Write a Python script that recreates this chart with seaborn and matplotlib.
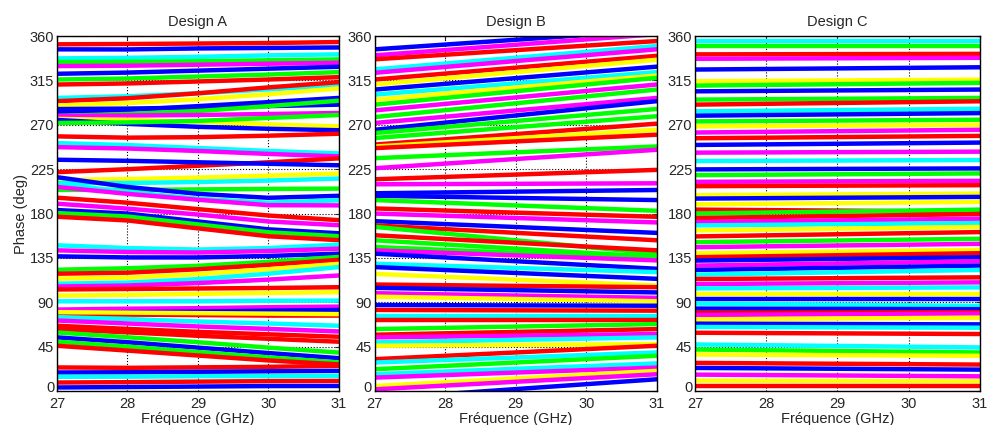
import numpy as np
import pandas as pd
import seaborn as sns
from matplotlib import pyplot as plt
from matplotlib import transforms

# couleurs type MATLAB
coul = {'r': (1, 0, 0), 'b': (0, 0, 1), 'm': (1, 0, 1),
        'g': (0, 1, 0), 'c': (0, 1, 1), 'y': (1, 1, 0)}

freq_a = [27, 28, 29, 30, 31]
colors_a = "rbcgmbgrcrybbgmybgrcmrbycgbcmrmbgrcmbgrycmrycmbrycmrrgbgrrbcrb"
phase_a = [
    [351.7, 352, 352.5, 353, 354],
    [346.6, 346.5, 347.5, 348, 348.5],
    [337.4, 338, 339, 340.5, 341.5],
    [333.7, 334, 334.5, 335.5, 336.4],
    [329.6, 330, 331, 332, 333],
    [321.8, 323, 325, 327, 328.9],
    [316, 317, 319, 321, 323.5],
    [310.9, 312, 314, 316, 318.4],
    [297.3, 299, 302, 306, 310],
    [294, 297, 302, 308, 313.3],
    [289.5, 292, 296, 301, 307],
    [283, 285, 289, 293, 297.3],
    [286, 286.5, 287.5, 289, 290.5],
    [279, 281, 284, 289, 294.5],
    [279, 279.5, 280, 281, 282],
    [276, 275, 273, 270.5, 268.4],
    [275, 271, 268, 266, 264.5],
    [271.9, 272.5, 274, 277, 280],
    [258.3, 257, 257.5, 259, 261],
    [251.5, 249.5, 246.5, 243.5, 241],
    [247.4, 246, 243.5, 240.5, 238],
    [222, 225, 228.5, 232, 236],
    [234.6, 233.5, 232, 230.5, 229],
    [214, 215, 216.5, 218.5, 220.6],
    [211, 211, 212, 213.5, 215.5],
    [204, 204, 204.5, 205, 205.3],
    [216.9, 207, 200, 196, 198],
    [210, 202, 195, 191, 193.4],
    [207, 200, 194, 188.5, 188.3],
    [196.1, 191, 184.5, 178, 173.3],
    [190, 185, 179, 172, 168.2],
    [183.6, 180, 172, 164, 160],
    [180.5, 177, 169, 161, 157],
    [176.8, 173, 165, 157, 153],
    [147.8, 145, 143.5, 145, 148.5],
    [142.7, 141, 140.5, 142, 144.4],
    [136.6, 135.5, 135.5, 137, 139.3],
    [123, 124.5, 127, 131, 136],
    [119, 120, 123.5, 128, 133],
    [114, 115, 118.5, 123.5, 129],
    [108.8, 110, 113.5, 119, 125.7],
    [106, 107, 109.5, 113, 117.2],
    [103, 103.5, 104, 104.5, 105.3],
    [96.8, 97.5, 98.5, 99.5, 100.2],
    [91, 91, 91, 91.5, 91.7],
    [82.6, 83.5, 84, 85, 85.6],
    [79.5, 80, 80.5, 81.5, 82.2],
    [77.5, 77.5, 77, 76.5, 76.5],
    [80, 79.5, 79, 78.5, 78],
    [75, 73, 70.5, 68.5, 66.2],
    [71.5, 68.5, 65.5, 63, 60.4],
    [66.2, 63, 60, 57.5, 55],
    [62.8, 59.5, 56, 53, 50],
    [59.4, 54.5, 49.5, 44, 39],
    [54.4, 49.5, 44, 38.5, 33.3],
    [50, 45, 39.5, 34, 29],
    [45.9, 41, 36, 31, 27],
    [23.9, 23.5, 24, 24.5, 25.5],
    [18.8, 19, 19.5, 20, 20.4],
    [14.4, 14.5, 15, 15, 15.3],
    [8.6, 9, 9.5, 10, 10.2],
    [3.6, 4, 4.5, 5, 5.1],
]

freq_b = [27, 31]
colors_b = "bmrcmrybcygmgmbggryrgmrmbbgrmbrgrggmbcbyrbmybrcrgrmcyrcgcmymb"
phase_b = [
    [346.6, 366], [340.5, 362], [336.5, 355], [326.3, 350], [322.8, 346.6],
    [316, 340], [310.9, 336], [305.8, 329], [300.7, 323.5], [295.6, 320],
    [290.5, 317.7], [284.7, 310.9], [277.9, 305.8], [271.9, 297.3], [265, 294],
    [261.7, 286.1], [256.6, 278.7], [250, 271.2], [248, 265], [246.4, 260],
    [236.2, 248.1], [226, 244.7], [214.8, 224.3], [209.7, 210.7], [200.6, 203.9],
    [198, 193.7], [193.7, 182.8], [185.2, 176.7], [180, 171], [172.3, 160.4],
    [168, 152.9], [166.5, 139.3], [158, 142.7], [152.9, 136], [146.1, 134.2],
    [142.7, 132.5], [139.3, 124], [129.1, 120.6], [125.7, 113.8], [118.8, 107],
    [108, 105.3], [104.6, 100], [99.2, 94.5], [95.7, 91], [87.2, 86.5],
    [82.2, 81.5], [76.4, 76.4], [72, 72], [62.8, 67.9], [57.1, 62.8],
    [54.4, 57.8], [49.3, 54.4], [45.9, 47.6], [32.3, 45.9], [28.9, 39.1],
    [22.1, 35.7], [17, 28], [13.6, 23.8], [5.1, 20.4], [1.7, 17],
    [-8, 11.9],
]

freq_c = [27, 31]
colors_c = "cgrmbygbgrcbgymrbmcbgmrybyrgrmcyrgmyrbmbcrmcybcbrmybcrcgyrbmyr"
phase_c = [
    [355, 355], [350, 350], [341.5, 342], [337, 338], [326.1, 328.4],
    [314.2, 315.9], [309.8, 312.6], [304, 305.8], [295.6, 297.3], [290.5, 293.9],
    [283.7, 286.3], [279.3, 281.9], [273.5, 275.2], [268.4, 270.1], [262.2, 265],
    [256.4, 258.8], [249.6, 252], [241.8, 242.8], [233.3, 234.3], [224.8, 225.8],
    [219, 220.7], [212.2, 213.2], [207.8, 208.8], [198.6, 200.3], [195.2, 196.9],
    [189.4, 191.8], [184, 182], [180, 184], [175.5, 179.5], [171.4, 174.8],
    [168, 170.4], [162.9, 166.4], [156.8, 161.2], [151, 154.4], [145.9, 149.3],
    [139.8, 143.2], [135.7, 139.8], [132.3, 135.7], [127.2, 131.6], [122.8, 127.2],
    [118, 122.8], [113.6, 115.3], [108.5, 110.2], [104.1, 105.1], [98.3, 98.3],
    [93.2, 93.2], [88.7, 86.4], [83.6, 83], [79.5, 80], [77.1, 78.5],
    [72.7, 74.4], [68.3, 67.6], [64.9, 64.2], [59.1, 57.8], [47.2, 44.2],
    [42.1, 39.1], [37, 35.7], [28.5, 26.8], [23.4, 21.7], [16.6, 14.9],
    [10.5, 9.9], [4.8, 4.8],
]

titres = ["Design A", "Design B", "Design C"]

sns.set_style("white")
plt.rcParams['font.family'] = ['Liberation Sans', 'DejaVu Sans']

fig = plt.figure(figsize=(9.89, 4.25), dpi=100)
gauche = [0.0576, 0.379, 0.7027]
largeur = [0.285, 0.285, 0.288]

donnees = [(freq_a, colors_a, phase_a), (freq_b, colors_b, phase_b), (freq_c, colors_c, phase_c)]

for k, (fr, cols, ph) in enumerate(donnees):
    ax = fig.add_axes([gauche[k], 0.08, largeur[k], 0.835])
    lignes = []
    for i, vals in enumerate(ph):
        for f, v in zip(fr, vals):
            lignes.append({'freq': f, 'phase': v, 'ligne': i})
    df = pd.DataFrame(lignes)
    pal = {i: coul[cols[i % len(cols)]] for i in range(len(ph))}
    sns.lineplot(data=df, x='freq', y='phase', hue='ligne', palette=pal,
                 legend=False, linewidth=3.2, estimator=None, sort=False, ax=ax)
    ax.set_xlim(27, 31)
    ax.set_ylim(0, 360)
    ax.set_xticks([27, 28, 29, 30, 31])
    ax.set_yticks(np.arange(0, 361, 45))
    ax.grid(True, color='k', linestyle=':', linewidth=0.8)
    ax.set_axisbelow(True)
    ax.tick_params(direction='in', length=3, labelsize=10.5, top=True, right=True)
    ax.tick_params(axis='x', pad=4)
    ax.tick_params(axis='y', pad=2)
    # remonter un peu le "0" pour ne pas chevaucher le "27"
    lab0 = ax.get_yticklabels()[0]
    lab0.set_transform(lab0.get_transform() + transforms.ScaledTranslation(0, 3 / 72, fig.dpi_scale_trans))
    for s in ax.spines.values():
        s.set_color('k')
        s.set_linewidth(1)
    ax.set_title(titres[k], fontsize=10.5, pad=7)
    ax.set_xlabel('Fréquence (GHz)', fontsize=10.5, labelpad=1)
    if k == 0:
        ax.set_ylabel('Phase (deg)', fontsize=10.5, labelpad=1)
    else:
        ax.set_ylabel('')

fig.savefig('out.png', dpi=100)
